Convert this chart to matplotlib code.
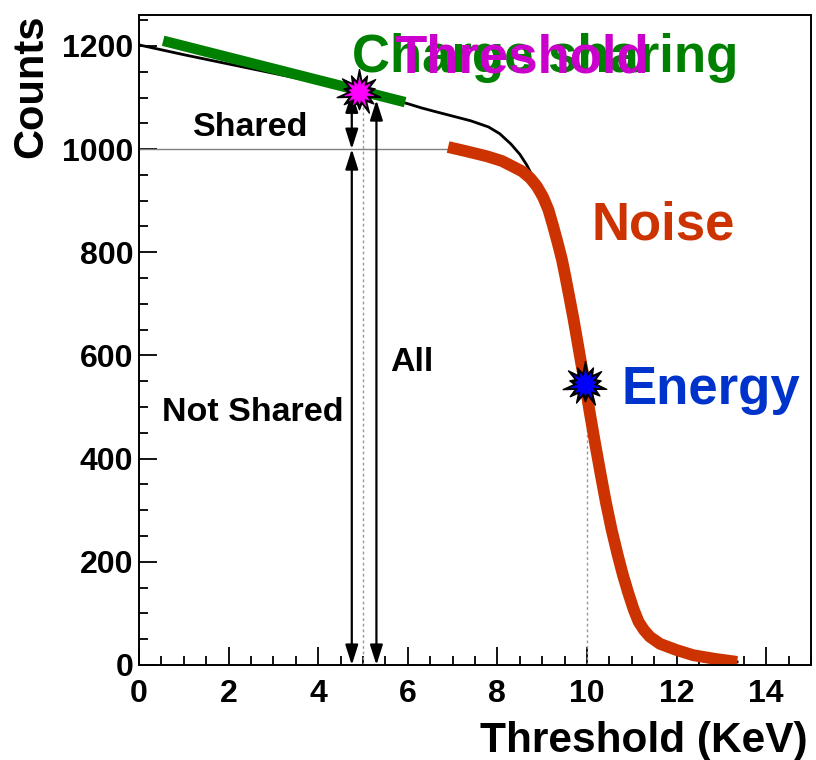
import matplotlib
matplotlib.use("Agg")
import numpy as np
import matplotlib.pyplot as plt
from matplotlib.path import Path
from matplotlib.ticker import MultipleLocator

plt.rcParams['font.family'] = ['Liberation Sans', 'DejaVu Sans']
plt.rcParams['font.weight'] = 'bold'

# measured threshold scan (black)
scan_x = [0, 1, 2, 3, 4, 5, 6, 6.3, 6.6, 7.0, 7.4, 7.8, 8.05, 8.3, 8.5, 8.65, 8.8,
          8.95, 9.1, 9.22, 9.34, 9.44, 9.56, 9.7, 9.8, 9.95, 10.18, 10.42, 10.68,
          10.92, 11.15, 11.4, 12.0, 12.85, 13.35]
scan_y = [1202, 1183, 1165, 1147, 1129, 1110, 1088, 1080, 1073, 1064, 1055, 1043,
          1030, 1010, 990, 970, 945, 912, 875, 840, 805, 775, 722, 660, 612, 540,
          430, 316, 215, 140, 84, 55, 29, 12, 6]

# noise part (red)
noise_x = [6.9, 7.3, 7.77, 8.1, 8.35, 8.55, 8.73, 8.88, 9.02, 9.14, 9.24, 9.34,
           9.44, 9.52, 9.6, 9.7, 9.8, 9.88, 9.96, 10.06, 10.18, 10.3, 10.42, 10.55,
           10.68, 10.8, 10.92, 11.04, 11.15, 11.27, 11.4, 11.63, 12.0, 12.37,
           12.85, 13.35]
noise_y = [1004, 996, 986, 977, 966, 957, 944, 928, 907, 882, 852, 820,
           786, 752, 716, 670, 620, 580, 544, 490, 430, 372, 316, 262,
           215, 175, 140, 108, 84, 68, 55, 41, 29, 19, 12, 6]

# charge sharing line (green)
share_x = [0.54, 5.94]
share_y = [1210, 1091]

thr_point = (4.92, 1110)
energy_point = (9.96, 544)
level_shared = 1000
x_notshared = 4.75
x_all = 5.3
top_shared = 1110
top_all = 1095

# burst-shaped marker
spikes = [1.0, 0.8, 0.95, 0.7, 1.0, 0.85, 0.9, 0.75, 1.0, 0.8, 0.95, 0.7, 0.9, 0.8]
ang = np.linspace(0, 2 * np.pi, 2 * len(spikes), endpoint=False) + np.pi / 2
rad = []
for s in spikes:
    rad += [s, 0.48]
verts = np.column_stack([np.cos(ang) * rad, np.sin(ang) * rad])
burst = Path(np.vstack([verts, verts[:1]]), closed=True)

fig = plt.figure(figsize=(8.16, 7.6), dpi=100)
ax = fig.add_axes([0.1703, 0.125, 0.8236, 0.8553])

ax.plot([0, noise_x[0]], [level_shared, level_shared], color='#808080', lw=1.0)
ax.plot([5.0, 5.0], [0, thr_point[1]], color='#999999', lw=1.0, ls=(0, (2, 2)))
ax.plot([10.0, 10.0], [0, energy_point[1]], color='#999999', lw=1.0, ls=(0, (2, 2)))

ax.plot(scan_x, scan_y, color='black', lw=2.0, solid_joinstyle='round')
ax.plot(share_x, share_y, color='#008000', lw=7.5, solid_capstyle='butt')
ax.plot(noise_x, noise_y, color='#cc3300', lw=8.5, solid_capstyle='butt',
        solid_joinstyle='round')

arrow = dict(arrowstyle='<|-|>,head_length=1.1,head_width=0.35', mutation_scale=11,
             color='black', lw=1.6, shrinkA=0, shrinkB=0)
ax.annotate('', xy=(x_notshared, 0), xytext=(x_notshared, level_shared), arrowprops=arrow)
ax.annotate('', xy=(x_notshared, level_shared), xytext=(x_notshared, top_shared), arrowprops=arrow)
ax.annotate('', xy=(x_all, 0), xytext=(x_all, top_all), arrowprops=arrow)

for pt, col in [(thr_point, '#ff00ff'), (energy_point, '#0000ff')]:
    ax.plot(*pt, marker=burst, ms=33, mfc='black', mec='black', mew=1.0, zorder=5)
    ax.plot(*pt, marker=burst, ms=22, mfc=col, mec=col, mew=0.5, zorder=6)

ax.text(4.75, 1149, 'Charge sharing', color='#008000', fontsize=38, fontweight='bold', va='baseline')
ax.text(5.71, 1148, 'Threshold', color='#cc00cc', fontsize=38, fontweight='bold', va='baseline')
ax.text(10.11, 825, 'Noise', color='#cc3300', fontsize=38, fontweight='bold', va='baseline')
ax.text(10.78, 505, 'Energy', color='#0033cc', fontsize=38, fontweight='bold', va='baseline')
ax.text(1.2, 1025, 'Shared', fontsize=24.5, fontweight='bold', va='baseline')
ax.text(0.51, 472, 'Not Shared', fontsize=24.5, fontweight='bold', va='baseline')
ax.text(5.6, 569, 'All', fontsize=24.5, fontweight='bold', va='baseline')

ax.set_xlim(0, 15)
ax.set_ylim(0, 1260)
ax.xaxis.set_major_locator(MultipleLocator(2))
ax.xaxis.set_minor_locator(MultipleLocator(0.5))
ax.yaxis.set_major_locator(MultipleLocator(200))
ax.yaxis.set_minor_locator(MultipleLocator(50))
ax.tick_params(which='major', direction='in', length=13, width=1.3, labelsize=23)
ax.tick_params(which='minor', direction='in', length=6.5, width=1.3)
ax.tick_params(axis='x', which='major', pad=10)
ax.tick_params(axis='y', which='major', pad=4)
for lab in ax.get_xticklabels() + ax.get_yticklabels():
    lab.set_fontweight('bold')
for sp in ax.spines.values():
    sp.set_linewidth(1.4)

fig.text(31 / 816, 1 - 15 / 760, 'Counts', rotation=90, ha='center', va='top',
         fontsize=30, fontweight='bold')
fig.text(808 / 816, 1 - 752 / 760, 'Threshold (KeV)', ha='right', va='baseline',
         fontsize=30.5, fontweight='bold')

fig.savefig('out.png', dpi=100)
